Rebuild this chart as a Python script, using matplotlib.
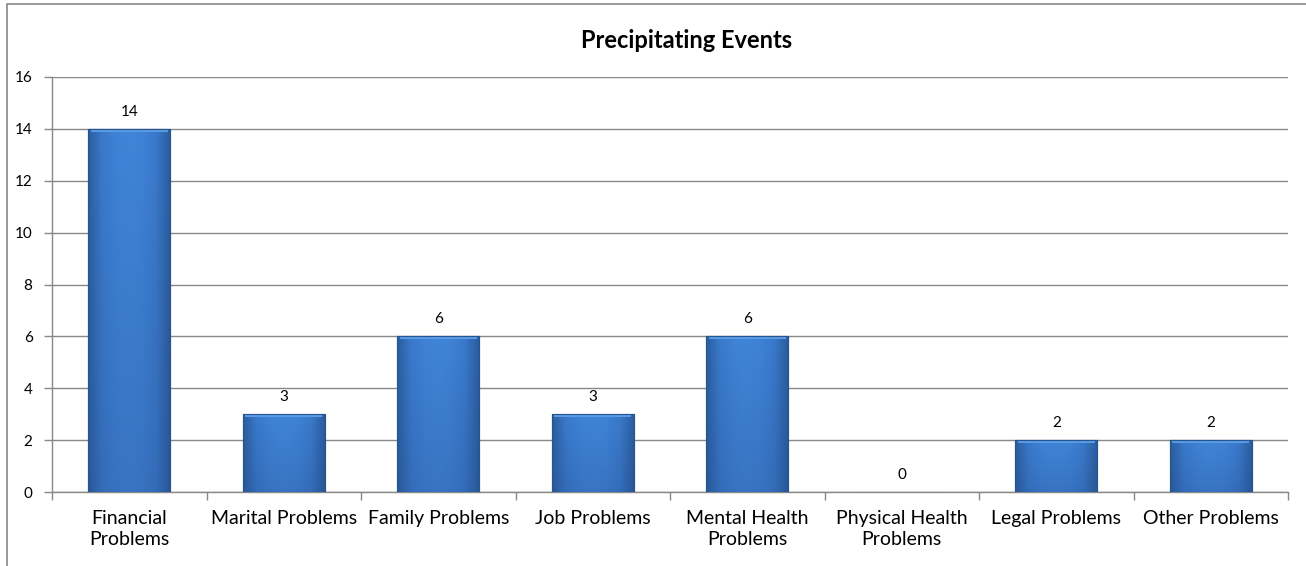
import matplotlib
matplotlib.use("Agg")
import matplotlib.pyplot as plt
import numpy as np
from matplotlib.patches import Rectangle
from matplotlib.colors import LinearSegmentedColormap

categories = ["Financial\nProblems", "Marital Problems", "Family Problems", "Job Problems",
              "Mental Health\nProblems", "Physical Health\nProblems", "Legal Problems", "Other Problems"]
values = [14, 3, 6, 3, 6, 0, 2, 2]
yticks = [0, 2, 4, 6, 8, 10, 12, 14, 16]
title = "Precipitating Events"

plt.rcParams['font.family'] = ['Lato', 'DejaVu Sans']

W, H = 1306, 566
fig = plt.figure(figsize=(W / 100, H / 100), dpi=100)
ax = fig.add_axes([52 / W, 1 - 492 / H, (1288 - 52) / W, (492 - 77) / H])

x = np.arange(len(values))
bars = ax.bar(x, values, width=0.53, color="#3D7ED2", edgecolor="#2B5E9F", linewidth=0.8, zorder=3)

# gradient shading (bevel look)
for b in bars:
    h = b.get_height()
    if h <= 0:
        continue
    x0, w = b.get_x(), b.get_width()
    grad = np.linspace(0, 1, 200).reshape(1, -1)
    grad = np.vstack([grad] * 2)
    img = ax.imshow(np.abs(grad - 0.5) * -1, cmap=LinearSegmentedColormap.from_list(
        "e", ["#2C5E9E", "#3A79CB", "#3F82D6", "#4185D8"]),
        extent=[x0, x0 + w, 0, h], aspect="auto", zorder=3.5, interpolation="bicubic")
    img.set_clip_path(b)
    vg = np.linspace(0, 1, 100).reshape(-1, 1)
    ax.imshow(vg, cmap=LinearSegmentedColormap.from_list("v", [(0.13, 0.27, 0.5, 0.25), (0.13, 0.27, 0.5, 0.0)]),
              extent=[x0, x0 + w, 0, h], aspect="auto", zorder=3.6, origin="lower")
    ax.add_patch(Rectangle((x0 + w * 0.03, h - 0.12), w * 0.94, 0.12, facecolor="#5A9BE6", edgecolor="none", zorder=3.7))
    ax.add_patch(Rectangle((x0, 0), w, h, facecolor="none", edgecolor="#25558F", linewidth=0.8, zorder=3.8))

for xi, v in zip(x, values):
    ax.text(xi, v + 0.4, str(v), ha="center", va="bottom", fontsize=11, color="black", zorder=5)

ax.set_xlim(-0.5, len(values) - 0.5)
ax.set_ylim(0, 16)
ax.set_yticks(yticks)
ax.set_yticklabels([str(t) for t in yticks], fontsize=11)
ax.set_xticks(x)
ax.set_xticklabels(categories, fontsize=14, linespacing=1.3)
ax.tick_params(axis="x", length=0, pad=13)
ax.set_xticks(np.arange(-0.5, len(values), 1), minor=True)
ax.tick_params(axis="x", which="minor", length=6, color="#888888", width=1)
ax.tick_params(axis="y", length=6, color="#888888", width=1, pad=8)
ax.yaxis.grid(True, color="#888888", linewidth=1, zorder=0)
ax.set_axisbelow(True)
for s in ["top", "right"]:
    ax.spines[s].set_visible(False)
for s in ["left", "bottom"]:
    ax.spines[s].set_color("#888888")
    ax.spines[s].set_linewidth(1)

fig.text(0.5 + 34 / W, 1 - 40 / H, title, ha="center", va="center", fontsize=17, fontweight="bold")

# chart border
fig.add_artist(Rectangle((7 / W, -0.1), 1.2, 1 - 4 / H + 0.1, transform=fig.transFigure,
                         facecolor="none", edgecolor="#888888", linewidth=1.2))

fig.savefig("out.png", dpi=100)
